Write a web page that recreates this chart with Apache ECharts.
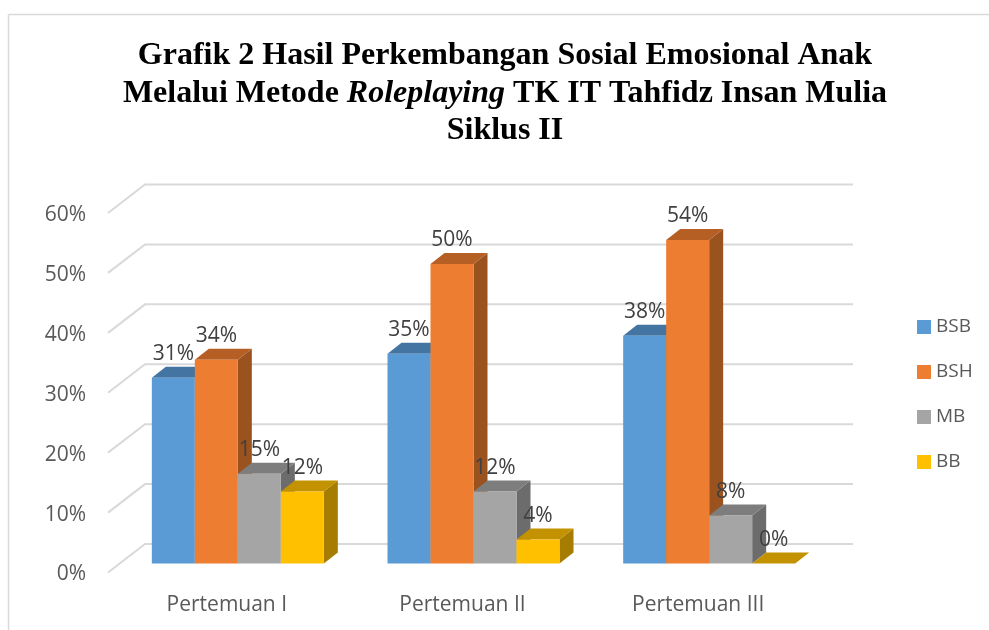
<!DOCTYPE html>
<html>
<head>
<meta charset="utf-8">
<title>Grafik 2</title>
<script src="https://cdn.jsdelivr.net/npm/echarts@6/dist/echarts.min.js"></script>
<style>
  html, body { margin: 0; padding: 0; background: #fff; }
  #chart { width: 989px; height: 630px; }
</style>
</head>
<body>
<div id="chart"></div>
<script>
const categories = ["Pertemuan I", "Pertemuan II", "Pertemuan III"];
const yTicks = [0, 10, 20, 30, 40, 50, 60];
const seriesNames = ["BSB", "BSH", "MB", "BB"];
const bsb = [31, 35, 38];
const bsh = [34, 50, 54];
const mb = [15, 12, 8];
const bb = [12, 4, 0];

const uiFont = "Open Sans";
const serif = "Liberation Serif";

// front, top and side colours of each 3D bar
const palette = [
  { front: "#5B9BD5", top: "#4374A2", side: "#3F6D98" },
  { front: "#ED7D31", top: "#B55F25", side: "#9A521F" },
  { front: "#A5A5A5", top: "#7D7D7D", side: "#6C6C6C" },
  { front: "#FFC000", top: "#C29200", side: "#A67D00" }
];

const depthX = 14;
const depthY = 11;
const barWidth = 43;

function renderBar(index, colors) {
  return function (params, api) {
    const value = api.value(1);
    const base = api.coord([api.value(0), 0]);
    const head = api.coord([api.value(0), value]);
    const left = base[0] + (index - 2) * barWidth;
    const right = left + barWidth;
    const y0 = base[1];
    const y1 = head[1];
    return {
      type: "group",
      children: [
        {
          type: "polygon",
          shape: { points: [[right, y1], [right + depthX, y1 - depthY], [right + depthX, y0 - depthY], [right, y0]] },
          style: { fill: colors.side }
        },
        {
          type: "polygon",
          shape: { points: [[left, y1], [left + depthX, y1 - depthY], [right + depthX, y1 - depthY], [right, y1]] },
          style: { fill: colors.top }
        },
        {
          type: "rect",
          shape: { x: left, y: y1, width: barWidth, height: y0 - y1 },
          style: { fill: colors.front }
        },
        {
          type: "text",
          z2: 100,
          style: {
            x: left + barWidth / 2,
            y: y1 - 23.5,
            text: value + "%",
            fill: "#404040",
            font: "21px " + uiFont,
            align: "center",
            verticalAlign: "middle"
          }
        }
      ]
    };
  };
}

function renderWallLine(params, api) {
  const y = api.coord([0, api.value(1)])[1];
  const x = params.coordSys.x;
  return {
    type: "polyline",
    shape: { points: [[x - 12, y + 9], [x + 25, y - 19.5], [x + 733, y - 19.5]] },
    style: { fill: null, stroke: "#d9d9d9", lineWidth: 2 }
  };
}

function barSeries(name, values, index) {
  return {
    name: name,
    type: "custom",
    z: 3,
    itemStyle: { color: palette[index].front },
    renderItem: renderBar(index, palette[index]),
    data: values.map((v, i) => [i, v])
  };
}

const chart = echarts.init(document.getElementById("chart"));
chart.setOption({
  animation: false,
  backgroundColor: "#fff",
  title: {
    text:
      "{b|Grafik 2 Hasil Perkembangan Sosial Emosional Anak}\n" +
      "{b|Melalui Metode }{i|Roleplaying}{b| TK IT Tahfidz Insan Mulia}\n" +
      "{b|Siklus II}",
    left: 500,
    top: 32,
    textAlign: "center",
    textStyle: {
      lineHeight: 37.5,
      rich: {
        b: { fontFamily: serif, fontWeight: "bold", fontSize: 32, lineHeight: 37.5, color: "#000" },
        i: { fontFamily: serif, fontWeight: "bold", fontStyle: "italic", fontSize: 32, lineHeight: 37.5, color: "#000" }
      }
    }
  },
  graphic: [
    { type: "line", shape: { x1: 8.5, y1: 14.5, x2: 989, y2: 14.5 }, style: { stroke: "#d9d9d9", lineWidth: 1.5 } },
    { type: "line", shape: { x1: 8.5, y1: 14.5, x2: 8.5, y2: 630 }, style: { stroke: "#d9d9d9", lineWidth: 1.5 } }
  ],
  legend: {
    data: seriesNames,
    orient: "vertical",
    left: 917,
    top: 317,
    padding: 0,
    itemWidth: 14,
    itemHeight: 14,
    itemGap: 25,
    icon: "rect",
    textStyle: { fontFamily: uiFont, fontSize: 19, color: "#595959", lineHeight: 20 }
  },
  grid: { left: 120, top: 204, width: 707, height: 359.5 },
  xAxis: {
    type: "category",
    data: categories,
    axisLine: { show: false },
    axisTick: { show: false },
    axisLabel: {
      fontFamily: uiFont,
      fontSize: 21,
      color: "#595959",
      margin: 31,
      padding: [0, 22, 0, 0]
    }
  },
  yAxis: {
    type: "value",
    min: yTicks[0],
    max: yTicks[yTicks.length - 1],
    interval: 10,
    axisLine: { show: false },
    axisTick: { show: false },
    splitLine: { show: false },
    axisLabel: {
      formatter: "{value}%",
      fontFamily: uiFont,
      fontSize: 21,
      color: "#595959",
      margin: 34,
      verticalAlign: "top",
      lineHeight: 22
    }
  },
  series: [
    {
      type: "custom",
      z: 1,
      silent: true,
      renderItem: renderWallLine,
      data: yTicks.map(t => [0, t])
    },
    barSeries(seriesNames[0], bsb, 0),
    barSeries(seriesNames[1], bsh, 1),
    barSeries(seriesNames[2], mb, 2),
    barSeries(seriesNames[3], bb, 3)
  ]
});
</script>
</body>
</html>
